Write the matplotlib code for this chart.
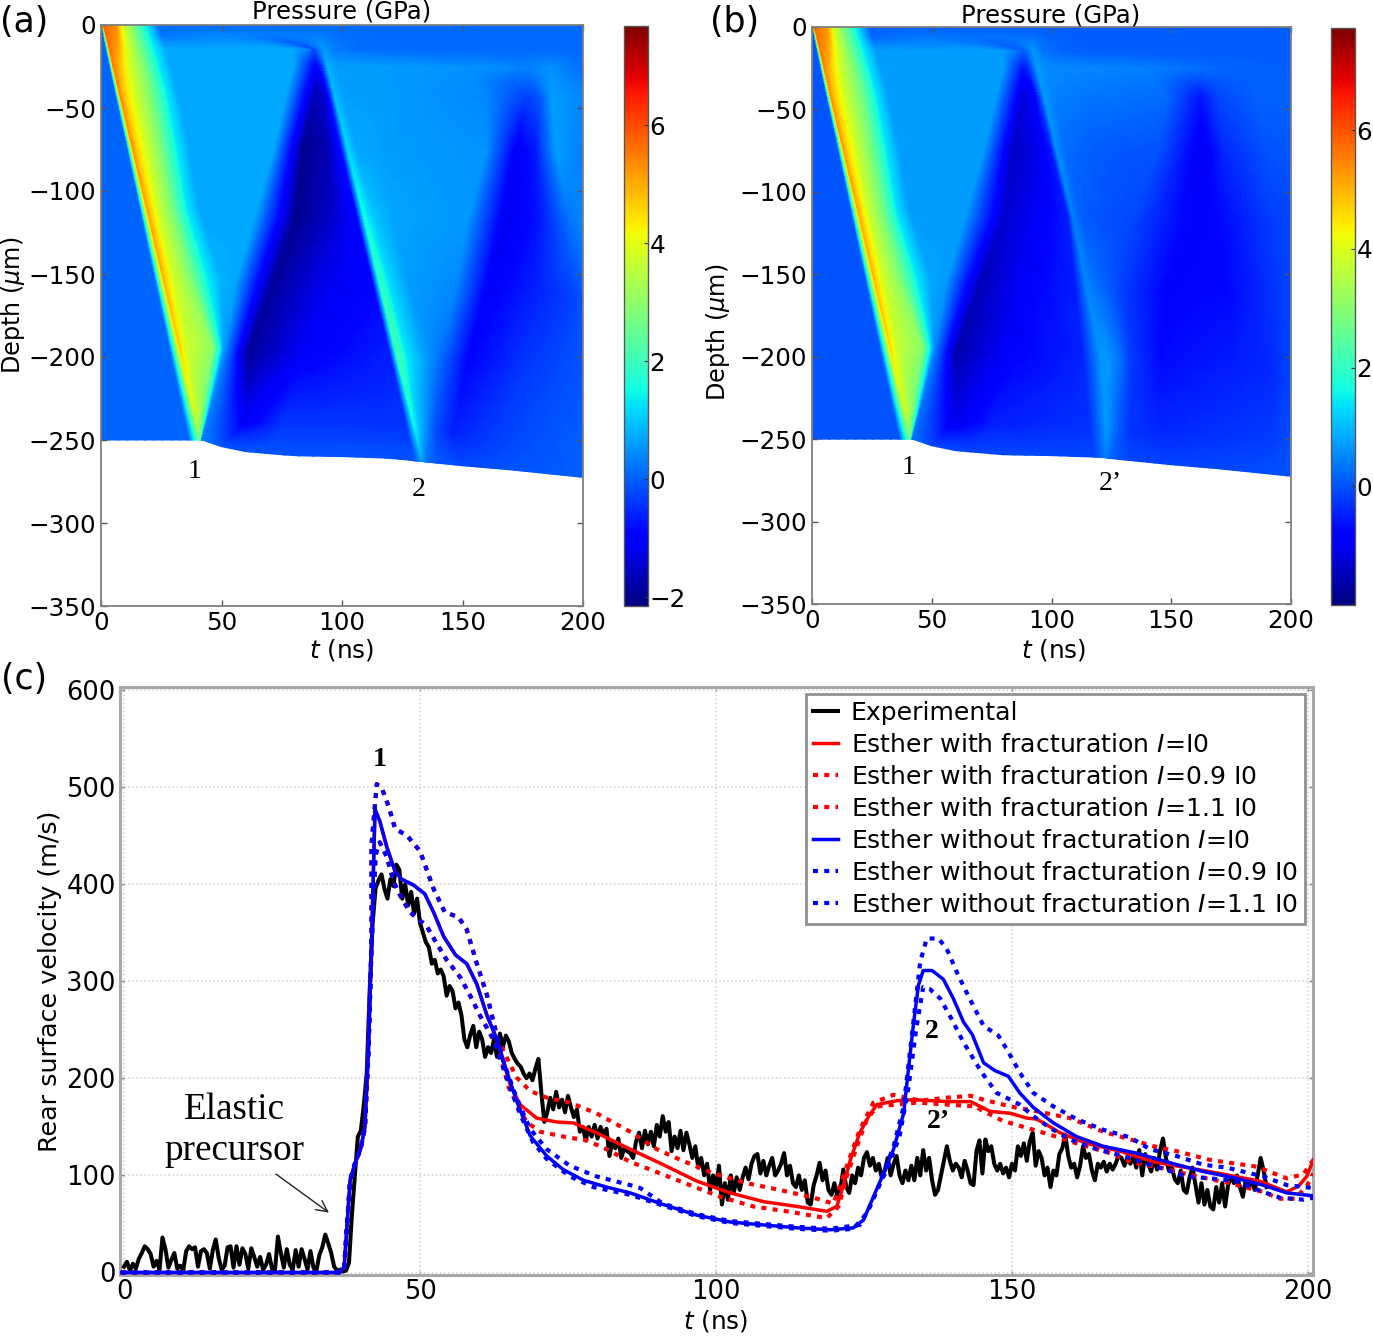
import numpy as np
import matplotlib
matplotlib.use("Agg")
import matplotlib.pyplot as plt
from matplotlib.colors import Normalize

W, H = 1373, 1336

# ---------- pressure maps: each row holds knots (time, pressure) read at one depth ----------
ROW_DEPTH = [0, 6, 14, 24, 40, 71, 111, 151, 192, 232, 250]

WEDGE_T = [
    [0, 0.01, 0.6, 6.7, 8.7, 13, 19, 24],
    [0, 0.9, 2, 7, 9.5, 14, 20, 25],
    [0, 2, 3.3, 7.5, 10.5, 15.5, 22, 27],
    [0, 3.5, 4.9, 7.5, 11.5, 17.5, 24, 29],
    [0, 5.8, 7.5, 9.5, 14, 20, 27, 32],
    [0, 10.4, 12.6, 14.5, 18.5, 24, 31, 36.5],
    [0, 16.2, 19.1, 20.8, 23.5, 29, 35.5, 41],
    [0, 22, 25.6, 27.2, 30, 36, 44, 50],
    [0, 28, 32.3, 33.5, 36, 46, 49.5, 51],
    [0, 33.9, 38.5, 39.3, 41, 43, 44.3, 45],
    [0, 36.5, 41, 41.3, 41.5, 41.7, 41.8, 42],
]
WEDGE_P = [
    [0.05, 0.05, 5.7, 5.2, 4.0, 2.9, 1.4, 0.15],
    [0.05, 0.05, 5.7, 5.2, 4.0, 2.9, 1.4, 0.2],
    [0.05, 0.05, 5.6, 5.0, 4.0, 2.9, 1.4, 0.7],
    [0.05, 0.05, 5.5, 4.9, 3.9, 2.9, 1.4, 0.7],
    [0.05, 0.05, 5.4, 4.7, 3.8, 2.9, 1.4, 0.7],
    [0.05, 0.05, 5.3, 4.6, 3.8, 2.9, 1.4, 0.7],
    [0.05, 0.05, 5.1, 4.6, 3.8, 2.9, 1.4, 0.7],
    [0.05, 0.05, 5.0, 4.5, 3.8, 3.0, 1.4, 0.8],
    [0.05, 0.05, 4.7, 4.3, 3.7, 3.1, 1.6, 0.7],
    [0.05, 0.05, 3.9, 3.7, 3.4, 2.6, 1.4, 0.6],
    [0.05, 0.05, 2.8, 2.8, 2.6, 2.0, 1.0, 0.3],
]

TAIL_A_T = [
    [40, 55, 70, 80, 90, 100, 115, 130, 150, 170, 190, 200],
    [40, 55, 70, 80, 90, 100, 115, 130, 150, 170, 190, 200],
    [80, 86, 88, 89.5, 92.5, 96, 105, 130, 150, 170, 190, 200],
    [80, 89, 90.5, 92, 94, 98, 112, 150, 168, 176, 186, 200],
    [77, 89, 93, 95, 96.8, 101, 115, 160, 176, 182, 187, 200],
    [72, 84, 94, 99.7, 102.2, 106, 118, 160, 172.5, 180, 189, 200],
    [64, 81, 96, 106.2, 109.2, 113.5, 122, 152, 168, 182, 195, 200],
    [56, 71, 92, 113.2, 116.2, 120.5, 128, 147, 160, 180, 195, 200],
    [51.5, 61, 85, 120.4, 123.4, 127.5, 135, 141, 152, 175, 190, 200],
    [45.2, 60, 75, 127, 130.4, 132.5, 135.5, 139, 146, 165, 185, 200],
    [42.1, 50, 70, 130, 133.5, 134.5, 136, 140, 150, 170, 185, 200],
]
TAIL_A_P = [
    [.12, .12, .12, .12, .12, .12, .1, .1, .1, .1, .1, .1],
    [.35, .35, .3, .3, .3, .15, .1, .1, .1, .1, .1, .1],
    [.7, .4, -.2, .1, .6, .3, .15, .1, .1, .1, .1, .1],
    [.7, -1.0, -.8, -.3, .8, .6, .6, .5, .45, .3, .5, .15],
    [.7, -1.7, -1.4, -.5, .9, .6, .6, .4, -.3, -.1, .6, .4],
    [.7, -2.0, -1.7, -.7, 1.2, .7, .6, .5, -1.1, -.7, .6, .3],
    [.7, -2.0, -1.5, -.9, 1.6, 1.0, .65, .55, -1.2, -.7, .2, .4],
    [.7, -1.9, -1.2, -.9, 2.0, 1.2, .6, .4, -1.0, -.6, -.3, -.1],
    [.5, -1.9, -1.0, -.6, 2.2, 1.3, .6, .1, -.9, -.4, -.2, -.1],
    [.3, -1.1, -.4, -.4, 1.5, .9, .4, -.2, -.6, -.3, -.1, 0],
    [.3, -.1, -.1, -.1, .7, .4, .1, -.1, -.2, -.1, -.05, 0],
]

TAIL_B_T = [
    [40, 55, 70, 80, 90, 100, 115, 130, 150, 170, 190, 200],
    [40, 55, 70, 80, 90, 100, 115, 130, 150, 170, 190, 200],
    [80, 86, 88, 89.5, 92.5, 96, 105, 130, 150, 170, 190, 200],
    [80, 88, 90, 92, 94, 98, 112, 140, 160, 170, 186, 200],
    [77, 88, 93, 95, 97, 101, 115, 148, 162, 170, 186, 200],
    [72, 84, 94, 100, 102, 106, 120, 145, 163, 172, 190, 200],
    [64, 80, 96, 107, 109, 113, 122, 134, 160, 172, 190, 200],
    [56, 70, 92, 110, 114.6, 119, 124, 130, 148, 175, 192, 200],
    [51.5, 60, 85, 113, 120.5, 124, 129, 133, 145, 175, 192, 200],
    [45.2, 60, 75, 116, 123, 125, 128, 133, 145, 170, 192, 200],
    [42.1, 50, 70, 118, 123, 124, 126, 133, 150, 170, 185, 200],
]
TAIL_B_P = [
    [.12, .12, .12, .12, .12, .12, .1, .1, .1, .1, .1, .1],
    [.35, .35, .3, .3, .3, .15, .1, .1, .1, .1, .1, .1],
    [.7, .4, .1, .2, .7, .35, .15, .1, .1, .1, .1, .1],
    [.7, -.6, -.4, .1, .7, .55, .5, .45, .3, .2, .15, .12],
    [.7, -1.2, -.9, -.1, .7, .45, .35, .25, -.6, -.1, .15, .15],
    [.7, -1.4, -1.1, -.5, .6, .25, .1, 0, -1.0, -.4, 0, .05],
    [.7, -1.3, -.9, -.5, .45, .1, 0, -.1, -.9, -.7, -.25, -.1],
    [.7, -1.5, -.8, -.5, .5, .3, .1, -.2, -.8, -.7, -.3, -.1],
    [.5, -1.6, -.8, -.45, .65, .65, .3, -.2, -.7, -.5, -.4, -.1],
    [.3, -1.1, -.5, -.3, .7, .5, .1, -.3, -.4, -.3, -.2, 0],
    [.3, -.1, -.1, -.1, .5, .3, .1, -.1, -.15, -.1, -.05, 0],
]

# rear surface of the target (time, depth)
REAR_T = [0, 42, 50, 60, 80, 100, 120, 133, 150, 170, 200]
REAR_D = [250, 250, 254, 257, 259.5, 260, 261, 263, 265.5, 268, 272.5]

DEPTH_TICKS = [0, -50, -100, -150, -200, -250, -300, -350]
TIME_TICKS = [0, 50, 100, 150, 200]

# ---------- velocity curves ----------
EXP_STEP = 0.5
EXP_V = [
    6, 11, 2, 9, 4, 14, 20, 27, 24, 19, 6, 12, 3, 36, 24, 5, 13, 20, 4, 7,
    2, 22, 27, 24, 26, 6, 22, 24, 20, 4, 23, 34, 15, 3, 7, 26, 27, 5, 27, 8,
    25, 19, 4, 25, 16, 6, 16, 3, 8, 19, 4, 2, 37, 20, 5, 24, 8, 3, 23, 6,
    24, 14, 3, 22, 5, 2, 18, 26, 39, 30, 20, 6, 2, 3, 1, 2, 10, 60, 100, 140,
    146, 172, 205, 290, 360, 396, 404, 410, 395, 385, 405, 398, 420, 415, 385, 400, 378, 392, 370, 385,
    360, 350, 340, 335, 318, 322, 308, 312, 305, 285, 295, 290, 272, 278, 265, 240, 232, 245, 254, 232,
    248, 240, 222, 232, 226, 240, 222, 246, 232, 244, 238, 226, 220, 215, 212, 205, 200, 205, 198, 210,
    220, 185, 155, 165, 180, 168, 186, 170, 178, 165, 182, 170, 160, 168, 145, 150, 136, 150, 140, 152,
    138, 150, 142, 148, 120, 135, 128, 138, 118, 128, 125, 123, 118, 135, 144, 128, 146, 132, 145, 130,
    152, 140, 161, 145, 155, 125, 140, 128, 146, 126, 144, 132, 118, 130, 108, 118, 100, 112, 85, 100,
    88, 110, 70, 92, 75, 100, 82, 98, 85, 98, 108, 96, 112, 120, 122, 102, 115, 100, 110, 118,
    100, 105, 112, 123, 100, 110, 92, 88, 100, 85, 95, 72, 70, 90, 100, 113, 95, 105, 85, 80,
    92, 78, 85, 106, 88, 82, 100, 92, 108, 100, 118, 124, 110, 118, 105, 112, 98, 105, 118, 100,
    112, 120, 100, 92, 105, 95, 110, 95, 118, 100, 126, 105, 118, 95, 80, 85, 100, 115, 130, 115,
    105, 112, 108, 98, 115, 105, 92, 90, 125, 136, 102, 137, 125, 130, 112, 105, 112, 102, 108, 98,
    112, 105, 130, 120, 133, 115, 135, 144, 110, 125, 118, 100, 108, 88, 105, 100, 122, 128, 142, 120,
    108, 112, 98, 110, 130, 118, 122, 105, 95, 112, 108, 114, 104, 112, 106, 112, 120, 118, 110, 118,
    112, 120, 108, 126, 100, 122, 112, 104, 118, 106, 125, 138, 118, 105, 108, 96, 92, 105, 85, 82,
    98, 108, 90, 72, 92, 70, 85, 68, 65, 88, 72, 92, 68, 90, 98, 92, 100, 88, 78, 96,
    88, 95, 85, 100, 118, 105, 88,
]

RISE_T = [-0.5, 36.5, 37.2, 37.8, 38.2, 39, 40, 40.7, 41.3, 41.8]
RISE_V = [0, 0, 6, 60, 95, 112, 128, 150, 230, 335]

NF_T = [42.4, 43.2, 44.4, 45.8, 46.9, 48.9, 50.8, 52.3, 54, 56, 57.9, 59.6, 61.3, 63, 64.6, 66.3, 68.6, 71.4, 74.2,
        77.6, 81.5, 85.5, 91.1, 96.8, 102.4, 108, 113.7, 119.3, 123.2, 124.9, 126.6, 128.3, 130, 131.7, 132.5,
        133.4, 134.2, 135, 136.5, 138.4, 140.1, 141.8, 143.3, 145.2, 147.1, 149.4, 151.3, 153.6, 157, 160.9,
        165.4, 171, 176.7, 182.3, 187.9, 192.4, 196.4, 200.9]
NF_V = [477, 465, 438, 413, 405, 399, 390, 371, 346, 327, 318, 297, 265, 240, 208, 177, 141, 120, 106,
        95, 88, 82, 70, 59, 52, 49, 46, 44, 46, 54, 78, 102, 127, 164, 209,
        258, 296, 311, 311, 302, 282, 258, 245, 216, 208, 202, 185, 170, 154, 140,
        130, 123, 113, 104, 97, 90, 82, 79]

NF_HI_T = [41.8, 42.7, 43.6, 44.7, 45.8, 47.8, 50, 52.3, 54.2, 56.5, 57.9, 59.6, 61.3, 63, 64, 66.3, 68.6, 71.4, 75.3,
           79.8, 85.5, 87.2, 91, 96.8, 102.4, 108, 113.7, 119.3, 124.3, 126, 127.7, 130, 131.7, 133.4, 134.5, 135.6,
           137.6, 139, 140.7, 142.6, 145.2, 147.7, 149.4, 151.3, 153.6, 157, 160.9, 165.4, 170, 173.3, 177.8, 182.3,
           186.3, 192.4, 196.4, 200.9]
NF_HI_V = [440, 503, 498, 480, 457, 450, 434, 395, 371, 366, 353, 318, 286, 244, 219, 180, 148, 127, 110,
           99, 90, 87, 71, 60, 53, 50, 47, 45, 49, 68, 92, 130, 171, 261, 320, 344,
           344, 333, 309, 285, 254, 244, 227, 206, 185, 171, 158, 147, 139, 127, 120, 111,
           108, 99, 90, 87]

NF_LO_T = [41.8, 42.5, 43.2, 44.4, 45.5, 46.6, 48.3, 51.1, 52.8, 54.5, 56.8, 58.4, 60.1, 62.4, 64.6, 66.9, 69.1, 71.4, 75.3,
           79.3, 85.5, 91, 96.8, 102.4, 108, 113.7, 119.3, 123.2, 125.5, 127, 129, 131, 132.5, 133.8, 135, 136.1,
           137.9, 139.8, 141.8, 144.9, 147.4, 149.7, 151.3, 153.6, 156.4, 159.8, 164.3, 168.8, 174.4, 179.5,
           183.4, 187.9, 192.4, 195.3, 199.2, 200.9]
NF_LO_V = [335, 430, 443, 428, 403, 389, 371, 357, 339, 322, 304, 286, 265, 240, 201, 163, 134, 117, 99,
           88, 80, 69, 58, 51, 48, 45, 43, 45, 61, 82, 108, 140, 190, 250, 294, 292,
           282, 261, 237, 206, 185, 178, 173, 161, 149, 137, 127, 120, 109, 99,
           97, 94, 83, 77, 75, 77]

FR_T = [63, 65.2, 66.9, 69.7, 73.1, 75.9, 79.8, 85.5, 91.1, 96.8, 102.4, 108, 113.7, 118.7, 120.4, 121.5, 122.7, 124.3,
        125.8, 127.2, 130.6, 133.4, 139, 143, 146.3, 149.7, 152.5, 154.2, 158.1, 162.6, 168.2, 173.9, 179.5, 185.1,
        191.9, 196.4, 198.4, 199.8, 200.9]
FR_V = [240, 194, 173, 159, 155, 154, 144, 127, 111, 94, 82, 73, 68, 63, 68, 89, 116, 144,
        161, 173, 177, 178, 176, 176, 166, 164, 159, 158, 144, 133, 125, 114, 108, 102,
        94, 83, 89, 99, 116]

FR_HI_T = [63, 66.3, 68.6, 71.4, 75.3, 79.8, 85.5, 90, 94, 99.6, 105.2, 110.8, 116.5, 119.8, 121.3, 122.7, 124.3, 126.6,
           130, 134.5, 139, 143, 145.2, 149.7, 154.2, 159.8, 165.4, 170, 173.9, 177.8, 183.4, 191.3, 196.4, 199.2, 200.9]
FR_HI_V = [242, 201, 187, 180, 175, 164, 145, 127, 116, 102, 92, 85, 77, 71, 95, 120, 147, 175,
           183, 177, 180, 182, 178, 171, 166, 159, 145, 137, 130, 125, 116, 109, 97, 101, 116]

FR_LO_T = [63, 65, 68, 70.3, 74.2, 78.2, 81.5, 85.5, 90.6, 95.6, 100.7, 106.3, 112, 118.7, 120.7, 122.1, 123.8, 125.5,
           127.2, 133.9, 139, 144, 144.6, 148.5, 152.5, 156.4, 160.9, 166.5, 170.5, 175, 181.2, 186.8, 192.4, 195.3,
           197.8, 199.8, 200.9]
FR_LO_V = [238, 190, 155, 145, 140, 136, 127, 114, 102, 90, 78, 68, 63, 56, 68, 99, 130, 158,
           171, 175, 173, 171, 168, 156, 149, 142, 133, 123, 113, 108, 99, 92, 83, 76,
           76, 89, 102]

VEL_TICKS = [0, 100, 200, 300, 400, 500, 600]
LEGEND_LABELS = ["Experimental", "Esther with fracturation $I$=I0", "Esther with fracturation $I$=0.9 I0",
                 "Esther with fracturation $I$=1.1 I0", "Esther without fracturation $I$=I0",
                 "Esther without fracturation $I$=0.9 I0", "Esther without fracturation $I$=1.1 I0"]

# ---------- drawing ----------
plt.rcParams["font.family"] = "DejaVu Sans"
plt.rcParams["mathtext.fontset"] = "dejavusans"
fig = plt.figure(figsize=(W / 100, H / 100), dpi=100)


def axes_px(x0, y0, x1, y1):
    return fig.add_axes([x0 / W, 1 - y1 / H, (x1 - x0) / W, (y1 - y0) / H])


def label(x, y, s, **kw):
    kw.setdefault("ha", "center")
    kw.setdefault("va", "center")
    fig.text(x / W, 1 - y / H, s, **kw)


def refine(a, n_rows=10, n_cols=10):
    """Subdivide a knot table so the shading goes through the colormap, not across it."""
    a = np.asarray(a, float)
    ci = np.linspace(0, a.shape[1] - 1, (a.shape[1] - 1) * n_cols + 1)
    b = np.array([np.interp(ci, np.arange(a.shape[1]), r) for r in a])
    ri = np.linspace(0, b.shape[0] - 1, (b.shape[0] - 1) * n_rows + 1)
    return np.array([np.interp(ri, np.arange(b.shape[0]), c) for c in b.T]).T


def pressure_panel(box, cbox, tail_t, tail_p, vmin, vmax, cticks):
    ax = axes_px(*box)
    t = np.hstack([np.array(WEDGE_T), np.array(tail_t)])
    p = np.hstack([np.array(WEDGE_P), np.array(tail_p)])
    d = np.array(ROW_DEPTH, float)[:, None] * np.ones_like(t)
    tf, pf, df = refine(t), refine(p), refine(d)
    y = -df * np.interp(tf, REAR_T, REAR_D) / 250.0
    mesh = ax.pcolormesh(tf, y, pf, shading="gouraud", cmap="jet", norm=Normalize(vmin, vmax))
    ax.set_xlim(0, 200)
    ax.set_ylim(-350, 0)
    ax.set_xticks(TIME_TICKS)
    ax.set_yticks(DEPTH_TICKS)
    ax.tick_params(direction="in", length=4, width=1, top=True, right=True, labelsize=17.7, pad=3.5, color="#555555")
    for s in ax.spines.values():
        s.set_color("#808080")
        s.set_linewidth(1.3)
    cax = axes_px(*cbox)
    cb = fig.colorbar(mesh, cax=cax)
    cb.set_ticks(cticks)
    cb.ax.tick_params(labelsize=17.7, length=3, direction="in", pad=1, color="#333333")
    cb.outline.set_edgecolor("#555555")
    cb.outline.set_linewidth(1)
    return ax


pressure_panel((101, 25, 583, 606), (624, 26, 648, 606), TAIL_A_T, TAIL_A_P, -2.15, 7.68, [-2, 0, 2, 4, 6])
pressure_panel((812, 27, 1291, 604), (1331, 28, 1355, 605), TAIL_B_T, TAIL_B_P, -2.0, 7.72, [0, 2, 4, 6])

# velocity panel
ax = axes_px(120, 687, 1313, 1275)
ax.set_xlim((120 - 124) / 5.92, (1313 - 124) / 5.92)
ax.set_ylim((1272.5 - 1275) / 0.971, (1272.5 - 687) / 0.971)
exp_t = np.arange(len(EXP_V)) * EXP_STEP
solid = dict(lw=2.5)
dash = dict(lw=3, dashes=(1.2, 1.5))
l0, = ax.plot(exp_t, EXP_V, color="k", lw=2.9, zorder=3)
rise_t = np.array(RISE_T)
rise_v = np.array(RISE_V)


def with_rise(tt, vv):
    return np.r_[rise_t, tt], np.r_[rise_v, vv]


def shared_top(tt, vv, src_t, src_v):
    """Red curves follow the blue ones until they part near 63 ns."""
    keep = np.array(src_t) < tt[0]
    return np.r_[np.array(src_t)[keep], tt], np.r_[np.array(src_v)[keep], vv]


r0 = shared_top(FR_T, FR_V, NF_T, NF_V)
r1 = shared_top(FR_LO_T, FR_LO_V, NF_LO_T, NF_LO_V)
r2 = shared_top(FR_HI_T, FR_HI_V, NF_HI_T, NF_HI_V)
l1, = ax.plot(*with_rise(*r0), color="#ff0000", zorder=4, **solid)
l2, = ax.plot(*with_rise(*r1), color="#ff0000", zorder=4, **dash)
l3, = ax.plot(*with_rise(*r2), color="#ff0000", zorder=4, **dash)
l4, = ax.plot(*with_rise(NF_T, NF_V), color="#0000ff", zorder=5, **solid)
l5, = ax.plot(*with_rise(NF_LO_T, NF_LO_V), color="#0000ff", zorder=5, **dash)
l6, = ax.plot(*with_rise(NF_HI_T, NF_HI_V), color="#0000ff", zorder=5, **dash)
ax.set_xticks(TIME_TICKS)
ax.set_yticks(VEL_TICKS)
ax.grid(True, color="#cfcfcf", linestyle=":", linewidth=1.1)
ax.set_axisbelow(True)
ax.tick_params(direction="in", length=3, width=1, top=True, right=True, labelsize=18.5, pad=3, color="#888888")
for s in ax.spines.values():
    s.set_color("#a8a8a8")
    s.set_linewidth(2.2)

leg = ax.legend([l0, l1, l2, l3, l4, l5, l6], LEGEND_LABELS, loc="upper left",
                bbox_to_anchor=((806 - 120) / 1193, 1 - (694 - 687) / 588), borderaxespad=0,
                fontsize=18.1, handlelength=1.0, handletextpad=0.52, labelspacing=0.32,
                borderpad=0.27, fancybox=False, framealpha=1, edgecolor="#909090")
leg.get_frame().set_linewidth(2)
leg.set_zorder(10)

ax.annotate("", xy=(35, 60), xytext=(25.3, 103),
            arrowprops=dict(arrowstyle="->", lw=1, color="#222222", mutation_scale=20), zorder=6)

# labels placed where the reference has them
serif = dict(family="Liberation Serif")
label(24, 22, "(a)", fontsize=25)
label(735, 22, "(b)", fontsize=25)
label(24, 679, "(c)", fontsize=25)
label(342, 12, "Pressure (GPa)", fontsize=17.6)
label(1051, 15, "Pressure (GPa)", fontsize=17.6)
label(342, 650, "$t$ (ns)", fontsize=17.8)
label(1054, 650, "$t$ (ns)", fontsize=17.8)
label(716, 1321, "$t$ (ns)", fontsize=17.8)
label(13, 305, "Depth ($\\mu$m)", fontsize=17.2, rotation=90)
label(718, 332, "Depth ($\\mu$m)", fontsize=17.2, rotation=90)
label(50, 981, "Rear surface velocity (m/s)", fontsize=18.3, rotation=90)
label(195, 471, "1", fontsize=20, **serif)
label(419, 489, "2", fontsize=20, **serif)
label(909, 468, "1", fontsize=20, **serif)
label(1110, 484, "2\u2019", fontsize=20, **serif)
label(380, 759, "1", fontsize=20, fontweight="bold", **serif)
label(932, 1032, "2", fontsize=20, fontweight="bold", **serif)
label(938, 1122, "2\u2019", fontsize=20, fontweight="bold", **serif)
label(234, 1110, "Elastic", fontsize=26.7, **serif)
label(234, 1151, "precursor", fontsize=26.7, **serif)

fig.savefig("out.png", dpi=100)
